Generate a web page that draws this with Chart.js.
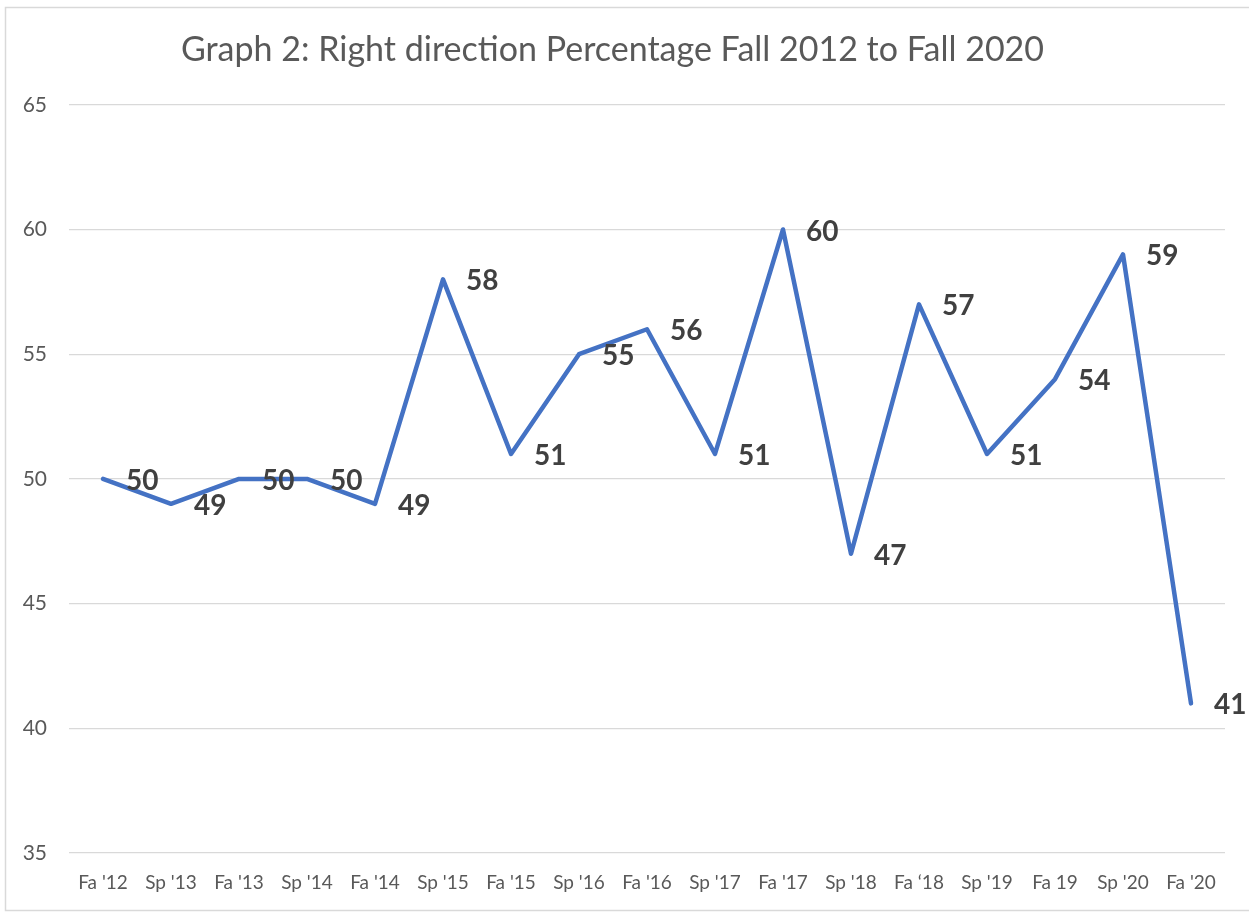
<!DOCTYPE html>
<html>
<head>
<meta charset="utf-8">
<script src="https://cdn.jsdelivr.net/npm/chart.js@4"></script>
<style>
html,body{margin:0;padding:0;background:#fff;}
#wrap{position:relative;width:1249px;height:914px;}
</style>
</head>
<body>
<div id="wrap"><canvas id="c" width="1249" height="914"></canvas></div>
<script>
const titleText = "Graph 2: Right direction Percentage Fall 2012 to Fall 2020";
const categories = ["Fa '12","Sp '13","Fa '13","Sp '14","Fa '14","Sp '15","Fa '15","Sp '16","Fa '16","Sp '17","Fa '17","Sp '18","Fa \u201818","Sp '19","Fa 19","Sp '20","Fa '20"];
const rightDirection = [50,49,50,50,49,58,51,55,56,51,60,47,57,51,54,59,41];
const yTicks = [35,40,45,50,55,60,65];

const FONT = "Lato, 'Open Sans', sans-serif";

const borderPlugin = {
  id: 'frame',
  beforeDraw(chart){
    const ctx = chart.ctx;
    ctx.save();
    ctx.fillStyle = '#fff';
    ctx.fillRect(0,0,chart.width,chart.height);
    ctx.strokeStyle = '#d9d9d9';
    ctx.lineWidth = 1.5;
    ctx.strokeRect(5.5,7.5,1300,903);
    ctx.restore();
  }
};

const labelPlugin = {
  id: 'valueLabels',
  afterDatasetsDraw(chart){
    const ctx = chart.ctx;
    const meta = chart.getDatasetMeta(0);
    ctx.save();
    ctx.font = "bold 28px " + FONT;
    ctx.fillStyle = '#404040';
    ctx.textAlign = 'left';
    ctx.textBaseline = 'middle';
    meta.data.forEach((pt,i)=>{
      ctx.fillText(String(rightDirection[i]), pt.x + 23, pt.y + 2);
    });
    ctx.restore();
  }
};

new Chart(document.getElementById('c'), {
  type: 'line',
  data: {
    labels: categories,
    datasets: [{
      data: rightDirection,
      borderColor: '#4472C4',
      borderWidth: 4.5,
      pointRadius: 0,
      tension: 0,
      borderCapStyle: 'round',
      borderJoinStyle: 'round',
      fill: false
    }]
  },
  options: {
    responsive: false,
    animation: false,
    layout: { padding: { top: 10, right: 24, bottom: 0, left: 0 } },
    plugins: {
      legend: { display: false },
      tooltip: { enabled: false },
      title: {
        display: true,
        text: titleText,
        color: '#595959',
        font: { family: FONT, size: 34, weight: 'normal' },
        padding: { top: 20, bottom: 34 }
      }
    },
    scales: {
      x: {
        offset: true,
        grid: { display: false, drawTicks: false },
        border: { display: false },
        ticks: { color: '#595959', font: { family: FONT, size: 19 }, padding: 18, maxRotation: 0, autoSkip: false },
        afterFit(s){ s.height = 61; }
      },
      y: {
        min: 35, max: 65,
        afterBuildTicks(s){ s.ticks = yTicks.map(v=>({value:v})); },
        grid: { color: '#d9d9d9', lineWidth: 1.3, drawTicks: false },
        border: { display: false },
        ticks: { color: '#595959', font: { family: FONT, size: 21 }, padding: 22 },
        afterFit(s){ s.width = 69; }
      }
    }
  },
  plugins: [borderPlugin, labelPlugin]
});
</script>
</body>
</html>
